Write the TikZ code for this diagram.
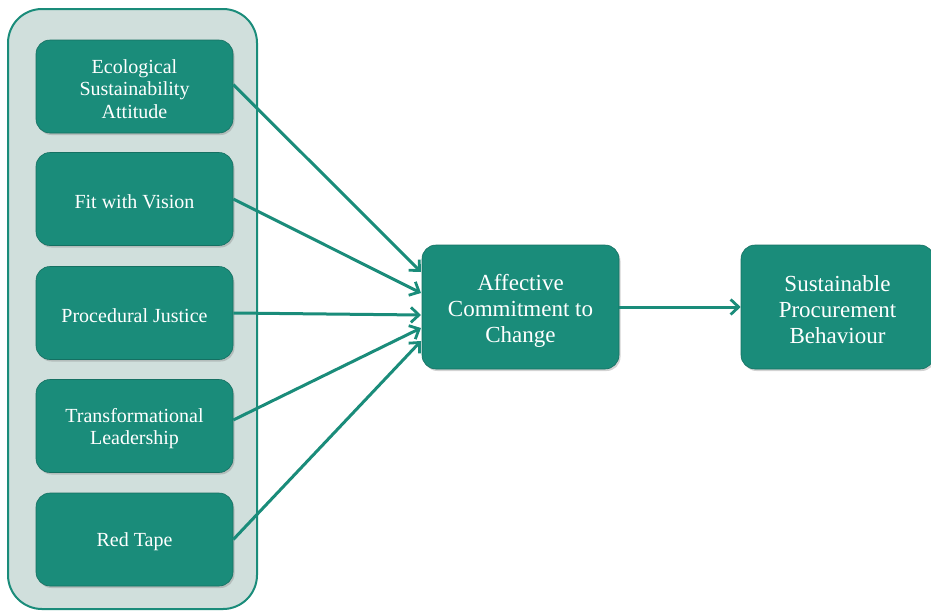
\documentclass[tikz,border=0pt]{standalone}
\usepackage{fontspec}
\setmainfont{Liberation Serif}
\usetikzlibrary{shadows,arrows.meta}
\definecolor{teal1}{HTML}{1A8C7A}
\definecolor{panel}{HTML}{D0DFDC}
\tikzset{
  box/.style={draw=teal1!80!black, line width=0.6pt, fill=teal1, rounded corners=14pt,
    drop shadow={shadow xshift=1.5pt, shadow yshift=-2pt, opacity=0.35}},
  lbl/.style={text=white, align=center},
  conn/.style={draw=teal1, line width=3pt, -{Straight Barb[length=8pt,width=15pt,line width=2.8pt]}},
}
\begin{document}
\begin{tikzpicture}[x=1pt,y=-1pt]
\useasboundingbox (0,0) rectangle (931,611);
\draw[teal1, line width=2pt, fill=panel, rounded corners=34pt] (8,9) rectangle (257,609);
\newcommand{\lbox}[3]{\node[box, minimum width=197pt, minimum height=93pt] (#1) at (134.5,#2) {};
  \node[lbl, font=\fontsize{20}{22.5}\selectfont] (#1t) at ([yshift=-2.5pt]#1.center) {#3};}
\lbox{a}{86.5}{Ecological\\Sustainability\\Attitude}
\lbox{b}{199}{Fit with Vision}
\lbox{c}{313}{Procedural Justice}
\lbox{d}{426}{Transformational\\Leadership}
\lbox{e}{539.5}{Red Tape}
\node[box, minimum width=197pt, minimum height=124pt] (m) at (520.5,307) {};
\node[lbl, font=\fontsize{23}{26}\selectfont] (mt) at ([yshift=-3.5pt]m.center) {Affective\\Commitment to\\Change};
\node[box, minimum width=193pt, minimum height=124pt] (r) at (837.5,307) {};
\node[lbl, font=\fontsize{23}{26}\selectfont] (rt) at ([yshift=-3pt]r.center) {Sustainable\\Procurement\\Behaviour};
\coordinate (m1) at (421,272);
\coordinate (m2) at (421,293);
\coordinate (m3) at (421,315);
\coordinate (m4) at (421,328);
\coordinate (m5) at (421,341);
\draw[conn] ([yshift=2pt]a.east) -- (m1);
\draw[conn] (b.east) -- (m2);
\draw[conn] (c.east) -- (m3);
\draw[conn] ([yshift=6pt]d.east) -- (m4);
\draw[conn] (e.east) -- (m5);
\draw[conn] (m.east) -- (r.west);
\end{tikzpicture}
\end{document}
